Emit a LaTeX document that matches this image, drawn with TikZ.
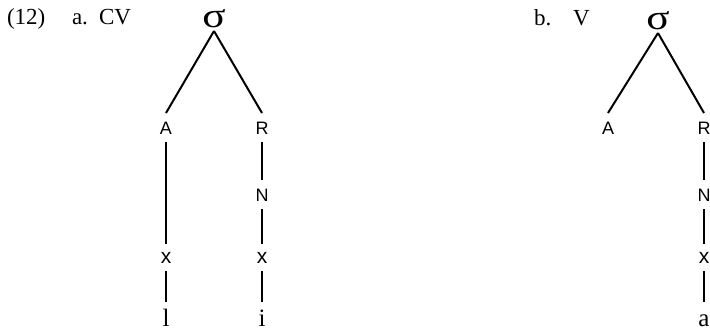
\documentclass[tikz,border=0pt]{standalone}
\usepackage{fontspec}
\setmainfont{Liberation Serif}
\newfontfamily\labfont{Liberation Sans}

\begin{document}
\begin{tikzpicture}[x=1pt, y=-1pt, line width=2pt,
  every node/.style={inner xsep=2pt, text depth=0pt},
  num/.style={anchor=base west, font=\fontsize{23}{23}\selectfont},
  syl/.style={anchor=base, font=\fontsize{32}{32}\selectfont, text height=15pt, inner ysep=3pt},
  cat/.style={anchor=base, font=\labfont\fontsize{18}{18}\selectfont, text height=13pt, inner ysep=7pt},
  skel/.style={anchor=base, font=\labfont\fontsize{21}{21}\selectfont, text height=11pt, inner ysep=7pt},
  seg/.style={anchor=base, font=\fontsize{25}{25}\selectfont, text height=17pt, inner ysep=6pt}]
  \useasboundingbox (0,0) rectangle (710,330);
  % (12a)
  \node[num] (exnum) at (4,24) {(12)};
  \node[num] (laba) at (69,24) {a.};
  \node[num] (cv) at (96,24) {CV};
  \node[syl] (sa) at (214,27) {\scalebox{1.35}[1.1]{σ}};
  \node[cat] (aa) at (166,134) {A};
  \node[cat] (ra) at (262,134) {R};
  \node[cat] (na) at (262,201) {N};
  \node[skel] (xa1) at (166,263) {x};
  \node[skel] (xa2) at (262,263) {x};
  \node[seg] (l) at (166,326) {l};
  \node[seg] (i) at (262,326) {i};
  \path (sa.south) edge (aa.north) edge (ra.north)
    (aa) edge (xa1) (xa1) edge (l)
    (ra) edge (na) (na) edge (xa2) (xa2) edge (i);
  % (12b)
  \node[num] (labb) at (531,25) {b.};
  \node[num] (v) at (570,25) {V};
  \node[syl] (sb) at (658,29) {\scalebox{1.35}[1.1]{σ}};
  \node[cat] (ab) at (608,134) {A};
  \node[cat] (rb) at (704,134) {R};
  \node[cat] (nb) at (704,201) {N};
  \node[skel] (xb) at (704,263) {x};
  \node[seg] (a) at (704,326) {a};
  \path (sb.south) edge (ab.north) edge (rb.north)
    (rb) edge (nb) (nb) edge (xb) (xb) edge (a);
\end{tikzpicture}
\end{document}
